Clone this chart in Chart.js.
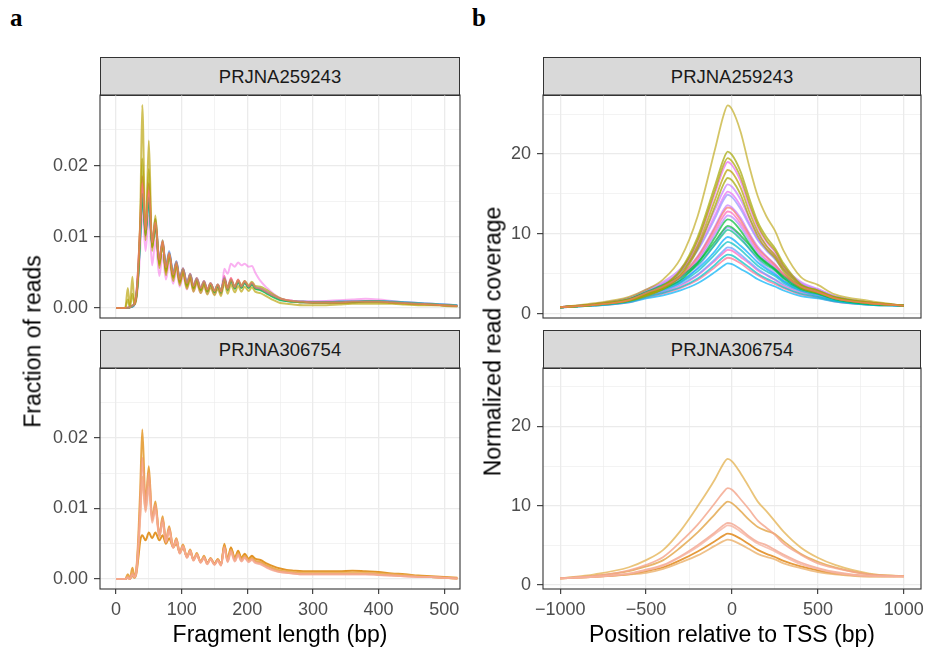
<!DOCTYPE html>
<html><head><meta charset="utf-8">
<script src="https://cdn.jsdelivr.net/npm/chart.js@4.4.0/dist/chart.umd.min.js"></script>
<style>
body{margin:0;background:#fff;width:925px;height:648px;position:relative;overflow:hidden;font-family:"Liberation Sans",Arial,sans-serif}
canvas{position:absolute}
.strip{position:absolute;background:#D9D9D9;border:1.1px solid #333;box-sizing:border-box;text-align:center;color:#1A1A1A;font-size:18.5px;line-height:37px}
.title{position:absolute;color:#000;font-size:23px;line-height:23px;white-space:nowrap;text-align:center}
.tag{position:absolute;font-family:"Liberation Serif","DejaVu Serif",serif;font-weight:bold;font-size:25px;line-height:25px;color:#000}
</style></head><body>
<div class="tag" style="left:10px;top:5px">a</div>
<div class="tag" style="left:472px;top:5px">b</div>
<div class="strip" style="left:100px;top:57px;width:360px;height:39px">PRJNA259243</div>
<div class="strip" style="left:100px;top:330px;width:360px;height:39px">PRJNA306754</div>
<div class="strip" style="left:543px;top:57px;width:378px;height:39px">PRJNA259243</div>
<div class="strip" style="left:543px;top:330px;width:378px;height:39px">PRJNA306754</div>
<canvas id="cTL" width="470" height="240" style="left:0;top:85px"></canvas>
<canvas id="cBL" width="470" height="290" style="left:0;top:358px"></canvas>
<canvas id="cTR" width="455" height="240" style="left:470px;top:85px"></canvas>
<canvas id="cBR" width="455" height="290" style="left:470px;top:358px"></canvas>
<div class="title" style="left:80px;top:623px;width:400px">Fragment length (bp)</div>
<div class="title" style="left:532px;top:623px;width:400px">Position relative to TSS (bp)</div>
<div class="title" style="left:-167px;top:330px;width:400px;transform:rotate(-90deg)">Fraction of reads</div>
<div class="title" style="left:293px;top:330px;width:400px;transform:rotate(-90deg)">Normalized read coverage</div>
<script>
// ---------- DATA ----------
const fragLen = [0,14,18,21,25,28,31,34,37,40, 45,50,55,60,66,71,76,81,87,92, 97,102,108,113,118,123,129,134,139,144, 150,155,160,165,170,175,181,186,191,196, 202,207,212,220,230,240,250,260,270,285, 300,320,340,360,380,400,420,440,460,480, 500,520];

// PRJNA259243 fragment length distributions
const fragA_red = [0,0,0,0.0001,0.0003,0.0006,0.002,0.006,0.0115,0.0175, 0.011,0.0165,0.0092,0.012,0.0068,0.0094,0.0057,0.0078,0.0047,0.0065, 0.004,0.0056,0.0035,0.0048,0.0031,0.0042,0.0028,0.0038,0.0026,0.0035, 0.0024,0.0033,0.0023,0.0042,0.0027,0.0041,0.0029,0.0039,0.003,0.0037, 0.003,0.0035,0.0029,0.0027,0.0022,0.0017,0.0013,0.0011,0.001,0.0009, 0.0008,0.0008,0.0008,0.0009,0.0009,0.0009,0.0008,0.0007,0.0006,0.0005, 0.0004,0.0003];
const fragA_olive1 = [0,0,0.0028,0.0002,0.0044,0.0005,0.0015,0.005,0.013,0.0285, 0.0095,0.0235,0.008,0.013,0.0056,0.0095,0.0046,0.0076,0.0038,0.006, 0.0032,0.005,0.0027,0.0042,0.0023,0.0036,0.0021,0.0032,0.0019,0.0029, 0.0018,0.0027,0.0017,0.0036,0.002,0.0033,0.0022,0.0031,0.0023,0.003, 0.0024,0.0029,0.0023,0.0021,0.0016,0.0011,0.0007,0.0006,0.0005,0.0004, 0.0004,0.0004,0.0005,0.0006,0.0006,0.0006,0.0006,0.0005,0.0004,0.0004, 0.0003,0.0002];
const fragA_olive2 = [0,0,0.0012,0.0001,0.002,0.0005,0.0016,0.0055,0.012,0.021, 0.0105,0.0195,0.0085,0.0125,0.006,0.0093,0.005,0.0076,0.0042,0.0062, 0.0035,0.0052,0.003,0.0044,0.0027,0.0039,0.0025,0.0036,0.0024,0.0034, 0.0024,0.0033,0.0024,0.004,0.0029,0.0039,0.0031,0.0039,0.0032,0.0038, 0.0032,0.0037,0.0031,0.003,0.0025,0.0019,0.0014,0.0011,0.0009,0.0008, 0.0007,0.0007,0.0007,0.0008,0.0008,0.0008,0.0007,0.0006,0.0005,0.0005, 0.0004,0.0003];
const fragA_green = [0,0,0,0.0001,0.0003,0.0006,0.0017,0.005,0.0105,0.016, 0.0102,0.0155,0.0086,0.0115,0.0063,0.009,0.0053,0.0075,0.0044,0.0063, 0.0037,0.0054,0.0032,0.0046,0.0028,0.004,0.0025,0.0036,0.0023,0.0033, 0.0022,0.0031,0.0021,0.0041,0.0025,0.0039,0.0027,0.0037,0.0028,0.0035, 0.0028,0.0033,0.0027,0.0025,0.002,0.0015,0.0011,0.001,0.0009,0.0008, 0.0008,0.0008,0.0008,0.0008,0.0009,0.0009,0.0008,0.0007,0.0006,0.0005, 0.0004,0.0003];
const fragA_teal = [0,0,0,0.0001,0.0002,0.0005,0.0016,0.0048,0.0102,0.0158, 0.0108,0.0152,0.009,0.0118,0.0066,0.0092,0.0055,0.0078,0.0046,0.0065, 0.0039,0.0055,0.0033,0.0047,0.0029,0.0041,0.0026,0.0037,0.0024,0.0034, 0.0023,0.0032,0.0022,0.004,0.0026,0.0039,0.0028,0.0037,0.0029,0.0036, 0.0029,0.0034,0.0028,0.0026,0.0021,0.0016,0.0012,0.001,0.0009,0.0009, 0.0008,0.0008,0.0009,0.0009,0.001,0.001,0.0009,0.0008,0.0007,0.0006, 0.0005,0.0004];
const fragA_blue = [0,0,0,0.0001,0.0002,0.0005,0.0018,0.005,0.0105,0.016, 0.011,0.015,0.009,0.0125,0.0068,0.0095,0.0058,0.008,0.0048,0.0066, 0.004,0.0056,0.0034,0.0048,0.003,0.0042,0.0027,0.0038,0.0025,0.0035, 0.0024,0.0033,0.0023,0.0042,0.0027,0.0038,0.0029,0.0037,0.003,0.0036, 0.003,0.0034,0.0029,0.0027,0.0022,0.0017,0.0013,0.001,0.0009,0.0008, 0.0008,0.0008,0.0008,0.0009,0.0009,0.0009,0.0008,0.0007,0.0006,0.0005, 0.0004,0.0003];
const fragA_purple = [0,0,0,0.0001,0.0003,0.0006,0.0019,0.0055,0.011,0.0168, 0.0106,0.0158,0.0089,0.0117,0.0065,0.0091,0.0055,0.0077,0.0046,0.0064, 0.0039,0.0055,0.0034,0.0047,0.003,0.0041,0.0027,0.0037,0.0025,0.0034, 0.0024,0.0032,0.0023,0.0043,0.0027,0.004,0.0029,0.0038,0.003,0.0036, 0.003,0.0034,0.0029,0.0027,0.0022,0.0017,0.0013,0.0011,0.001,0.0009, 0.0009,0.0009,0.0009,0.001,0.001,0.001,0.0009,0.0008,0.0007,0.0006, 0.0005,0.0004];
const fragA_magenta = [0,0,0,0.0001,0.0002,0.0004,0.0012,0.0038,0.0085,0.014, 0.008,0.013,0.006,0.0095,0.0045,0.0075,0.004,0.0062,0.0034,0.0052, 0.003,0.0045,0.0026,0.0039,0.0023,0.0034,0.0021,0.0031,0.002,0.0029, 0.0019,0.0028,0.0019,0.0055,0.0048,0.0062,0.0058,0.0064,0.006,0.0062, 0.0058,0.0059,0.005,0.0038,0.0028,0.002,0.0014,0.0011,0.001,0.0009, 0.0009,0.001,0.0011,0.0012,0.0013,0.0012,0.001,0.0008,0.0007,0.0006, 0.0005,0.0004];
const fragA_pink = [0,0,0.0001,0.0001,0.0004,0.0006,0.002,0.006,0.012,0.0185, 0.01,0.0175,0.0085,0.0115,0.0062,0.0092,0.0052,0.0077,0.0044,0.0064, 0.0037,0.0055,0.0032,0.0047,0.0028,0.0041,0.0026,0.0037,0.0024,0.0034, 0.0023,0.0032,0.0022,0.0045,0.0026,0.0042,0.0028,0.004,0.0029,0.0038, 0.0029,0.0035,0.0028,0.0027,0.0022,0.0017,0.0013,0.0011,0.0009,0.0008, 0.0007,0.0007,0.0007,0.0008,0.0009,0.0009,0.0008,0.0007,0.0006,0.0005, 0.0004,0.0003];

// PRJNA306754 fragment length distributions
const fragB_lightSalmon = [0,0,0.0002,0,0.0006,0.0003,0.001,0.0042,0.009,0.014, 0.0095,0.013,0.008,0.0098,0.006,0.008,0.0052,0.0068,0.0044,0.0054, 0.0036,0.0046,0.003,0.0039,0.0026,0.0034,0.0023,0.003,0.0021,0.0028, 0.002,0.0026,0.0019,0.0043,0.0024,0.0038,0.0025,0.0034,0.0025,0.003, 0.0024,0.0027,0.0023,0.0021,0.0016,0.0012,0.001,0.0009,0.0008,0.0007, 0.0007,0.0007,0.0007,0.0007,0.0007,0.0006,0.0005,0.0004,0.0003,0.0003, 0.0002,0.0001];
const fragB_salmon = [0,0,0.0003,0,0.0008,0.0003,0.0012,0.005,0.011,0.0172, 0.0105,0.015,0.0085,0.0105,0.0062,0.0085,0.0054,0.0072,0.0045,0.0056, 0.0037,0.0047,0.0031,0.004,0.0027,0.0035,0.0024,0.0031,0.0022,0.0029, 0.0021,0.0027,0.002,0.0045,0.0025,0.004,0.0026,0.0035,0.0026,0.0031, 0.0025,0.0028,0.0024,0.0022,0.0017,0.0013,0.001,0.0009,0.0008,0.0007, 0.0007,0.0007,0.0007,0.0007,0.0007,0.0006,0.0005,0.0004,0.0003,0.0003, 0.0002,0.0001];
const fragB_lightGold = [0,0,0.0004,0,0.001,0.0003,0.0012,0.0048,0.0095,0.0145, 0.0098,0.0145,0.0083,0.0105,0.006,0.0084,0.0053,0.0071,0.0045,0.0057, 0.0037,0.0048,0.0031,0.0041,0.0027,0.0036,0.0024,0.0032,0.0022,0.0029, 0.0021,0.0028,0.002,0.0047,0.0026,0.0042,0.0028,0.0037,0.0028,0.0033, 0.0027,0.003,0.0026,0.0024,0.0019,0.0015,0.0012,0.0011,0.001,0.0009, 0.0009,0.0009,0.0009,0.0009,0.0009,0.0008,0.0007,0.0006,0.0004,0.0003, 0.0002,0.0001];
const fragB_darkOrange = [0,0,0.0002,0,0.0005,0.0002,0.0008,0.003,0.0055,0.0062, 0.0055,0.0066,0.0058,0.0066,0.0055,0.0062,0.005,0.0058,0.0045,0.005, 0.0038,0.0044,0.0032,0.0038,0.0028,0.0034,0.0025,0.0031,0.0023,0.0029, 0.0022,0.0028,0.0021,0.0048,0.0028,0.0044,0.003,0.004,0.003,0.0036, 0.0029,0.0033,0.0029,0.0027,0.0022,0.0018,0.0015,0.0013,0.0012,0.0011, 0.0011,0.0011,0.0011,0.0012,0.0011,0.001,0.0008,0.0007,0.0005,0.0004, 0.0003,0.0002];
const fragB_gold = [0,0,0.0007,0.0001,0.0016,0.0004,0.0015,0.006,0.013,0.0212, 0.011,0.016,0.0085,0.011,0.0062,0.0089,0.0055,0.0075,0.0045,0.0058, 0.0037,0.0049,0.0031,0.0042,0.0027,0.0037,0.0024,0.0033,0.0022,0.003, 0.0021,0.0028,0.002,0.005,0.0026,0.0045,0.0028,0.0038,0.0028,0.0034, 0.0027,0.0031,0.0026,0.0024,0.0019,0.0015,0.0012,0.001,0.0009,0.0008, 0.0008,0.0008,0.0008,0.0008,0.0008,0.0007,0.0006,0.0005,0.0004,0.0003, 0.0002,0.0001];

// TSS enrichment profiles
const tssPos = [-1000,-800,-600,-500,-400,-300,-200,-100,-50,-25,0,50,100,150,200,250,300,400,500,600,800,1000];
const tssA_red     = [0.8,1.1,1.7,2.6,3.4,4.7,7.1,10.7,12.7,13.3,13.1,11.7,9.9,8.2,7.1,6.1,4.9,3.4,2.7,1.9,1.3,1.0];
const tssA_olive1  = [0.8,1.3,2.1,3.0,4.3,6.9,12.2,20.5,24.8,26.1,25.6,22.8,18.5,14.7,12.2,10.4,7.9,4.6,3.6,2.4,1.6,1.0];
const tssA_olive2  = [0.8,1.2,1.8,2.5,3.5,5.5,9.6,16.0,19.3,20.3,19.9,17.8,14.5,11.5,9.6,8.2,6.3,3.7,2.9,2.1,1.4,1.0];
const tssA_olive3  = [0.8,1.1,1.7,2.4,3.4,5.3,9.2,15.4,18.6,19.5,19.1,17.1,13.9,11.1,9.2,7.9,6.0,3.6,2.9,2.0,1.4,1.0];
const tssA_olive4  = [0.8,1.1,1.7,2.3,3.2,4.9,8.5,14.2,17.1,18.0,17.7,15.8,12.8,10.3,8.5,7.3,5.6,3.4,2.7,1.9,1.3,1.0];
const tssA_olive5  = [0.8,1.1,1.6,2.2,3.1,4.7,8.1,13.4,16.2,17.0,16.7,14.9,12.1,9.7,8.1,7.0,5.3,3.2,2.6,1.9,1.3,1.0];
const tssA_green   = [0.8,1.1,1.6,2.3,3.1,4.2,6.3,9.5,11.3,11.8,11.6,10.4,8.8,7.3,6.3,5.5,4.4,3.1,2.5,1.8,1.2,1.0];
const tssA_green3  = [0.8,1.1,1.8,2.7,3.6,4.7,6.4,9.0,10.5,11.0,10.8,9.8,8.6,7.3,6.4,5.6,4.7,3.5,2.7,2.0,1.3,1.0];
const tssA_green2  = [0.8,1.1,1.8,2.6,3.4,4.5,6.1,8.6,10.0,10.5,10.3,9.3,8.2,7.0,6.1,5.4,4.5,3.3,2.6,2.0,1.3,1.0];
const tssA_teal    = [0.8,1.1,1.6,2.4,3.0,3.9,5.3,7.4,8.6,9.0,8.8,8.0,7.0,6.0,5.3,4.7,3.9,2.9,2.4,1.8,1.2,1.0];
const tssA_cyan2   = [0.8,1.0,1.5,2.1,2.6,3.3,4.4,6.1,7.1,7.4,7.3,6.6,5.8,5.0,4.4,3.9,3.3,2.5,2.1,1.6,1.1,1.0];
const tssA_cyan    = [0.8,1.0,1.4,1.9,2.3,2.9,3.8,5.2,6.0,6.3,6.2,5.6,5.0,4.3,3.8,3.4,2.9,2.2,1.9,1.5,1.1,1.0];
const tssA_blue2   = [0.8,1.1,1.7,2.5,3.2,4.1,5.6,7.8,9.2,9.6,9.4,8.5,7.5,6.4,5.6,4.9,4.1,3.1,2.5,1.9,1.2,1.0];
const tssA_blue    = [0.8,1.1,1.6,2.2,2.8,3.7,4.9,6.8,7.9,8.3,8.2,7.4,6.5,5.6,4.9,4.3,3.7,2.8,2.2,1.7,1.2,1.0];
const tssA_violet2 = [0.8,1.1,1.6,2.2,2.9,3.9,5.8,8.7,10.3,10.8,10.6,9.6,8.1,6.8,5.8,5.1,4.1,2.9,2.3,1.7,1.2,1.0];
const tssA_violet  = [0.8,1.2,1.9,2.8,3.7,5.2,7.9,11.9,14.2,14.9,14.6,13.1,11.1,9.2,7.9,6.8,5.5,3.7,2.9,2.1,1.4,1.0];
const tssA_purple3 = [0.8,1.1,1.7,2.4,3.2,4.4,6.6,9.9,11.7,12.3,12.1,10.9,9.2,7.6,6.6,5.7,4.6,3.2,2.5,1.8,1.3,1.0];
const tssA_purple2 = [0.8,1.2,1.8,2.6,3.4,4.8,7.2,10.9,13.0,13.6,13.3,12.0,10.1,8.4,7.2,6.2,5.0,3.4,2.7,1.9,1.3,1.0];
const tssA_purple  = [0.8,1.2,2.0,3.0,4.0,5.6,8.5,13.0,15.4,16.2,15.9,14.3,12.0,10.0,8.5,7.3,5.9,4.0,3.1,2.2,1.4,1.0];
const tssA_magenta2= [0.8,1.2,1.9,2.8,3.8,5.3,8.1,12.3,14.6,15.3,15.0,13.5,11.4,9.4,8.1,7.0,5.6,3.8,3.0,2.1,1.4,1.0];
const tssA_magenta = [0.8,1.1,1.7,2.4,3.4,5.2,9.0,15.0,18.1,19.0,18.6,16.6,13.5,10.8,9.0,7.7,5.9,3.5,2.8,2.0,1.3,1.0];
const tssA_pink    = [0.8,1.1,1.7,2.5,3.3,4.5,6.8,10.3,12.2,12.8,12.6,11.3,9.6,7.9,6.8,5.9,4.8,3.3,2.6,1.9,1.3,1.0];
const tssA_pink2   = [0.8,1.1,1.5,2.2,2.7,3.5,4.8,6.6,7.6,8.0,7.9,7.1,6.3,5.4,4.8,4.2,3.5,2.7,2.2,1.7,1.2,1.0];
const tssA_rose    = [0.8,1.0,1.4,2.0,2.5,3.2,4.2,5.8,6.7,7.0,6.9,6.3,5.5,4.8,4.2,3.7,3.2,2.4,2.0,1.5,1.1,1.0];

const tssB_lightSalmon = [0.8,1.0,1.4,1.8,2.4,3.5,4.8,6.4,7.2,7.5,7.4,6.7,5.9,5.2,4.7,4.2,3.6,2.6,2.0,1.5,1.1,1.05];
const tssB_salmon1 = [0.8,1.0,1.4,1.9,2.5,3.6,5.0,6.6,7.5,7.8,7.7,7.0,6.1,5.4,5.0,4.4,3.8,2.8,2.1,1.6,1.1,1.05];
const tssB_salmon2 = [0.8,1.1,1.8,2.5,3.5,5.4,7.6,10.3,11.7,12.2,12.0,10.8,9.5,8.1,7.2,6.3,5.2,3.8,2.7,2.1,1.3,1.05];
const tssB_lightOrange = [0.8,1.0,1.3,1.5,2.0,2.8,3.7,4.9,5.5,5.7,5.6,5.1,4.5,3.9,3.5,3.2,2.7,2.1,1.6,1.3,1.0,1.05];
const tssB_gold = [0.8,1.1,1.7,2.3,3.1,4.7,6.6,8.9,10.1,10.5,10.3,9.3,8.2,7.3,6.8,6.4,5.5,3.9,2.9,2.2,1.3,1.1];
const tssB_lightGold = [0.8,1.3,2.2,3.1,4.4,6.8,9.9,13.3,15.3,15.9,15.6,14.1,12.3,10.5,9.3,8.0,6.7,4.7,3.4,2.5,1.4,1.05];
const tssB_darkOrange = [0.8,1.0,1.3,1.7,2.2,3.1,4.2,5.5,6.2,6.45,6.35,5.8,5.1,4.4,3.9,3.5,3.0,2.3,1.8,1.4,1.1,1.05];

// axis ticks
const fragMajor = [0,100,200,300,400,500];
const fragMinor = [50,150,250,350,450];
const fragTickLabels = ['0','100','200','300','400','500'];
const fracMajor = [0,0.01,0.02];
const fracMinor = [0.005,0.015,0.025];
const fracTickLabels = ['0.00','0.01','0.02'];
const posMajor = [-1000,-500,0,500,1000];
const posMinor = [-750,-250,250,750];
const posTickLabels = ['\u22121000','\u2212500','0','500','1000'];
const covMajor = [0,10,20];
const covMinor = [5,15,25];
const covTickLabels = ['0','10','20'];

// ---------- RENDERING ----------
const FONT = '"Liberation Sans", Arial, sans-serif';
Chart.defaults.font.family = FONT;
function rgba(hex, a){const n=parseInt(hex.slice(1),16);return `rgba(${n>>16&255},${n>>8&255},${n&255},${a})`;}
function line(xs, ys, hex, a, w){
  return {data: xs.map((x,i)=>({x:x,y:ys[i]})), borderColor: rgba(hex,a), borderWidth: w,
    pointRadius:0, fill:false, cubicInterpolationMode:'monotone'};
}
const borderPlugin = {id:'panelBorder', afterDraw(chart){
  const {ctx, chartArea:a} = chart; ctx.save(); ctx.strokeStyle='#333333'; ctx.lineWidth=1.1;
  ctx.strokeRect(a.left, a.top, a.right-a.left, a.bottom-a.top); ctx.restore();}};

function axis(min, max, major, minor, labels, showLabels, isX, size, pad){
  const all = major.concat(minor).sort((a,b)=>a-b);
  return {type:'linear', min:min, max:max,
    afterBuildTicks: s => { s.ticks = all.map(v=>({value:v})); },
    afterFit: s => { if(isX) s.height = size; else s.width = size;
      s.paddingLeft = 0; s.paddingRight = 0; s.paddingTop = 0; s.paddingBottom = 0; },
    border:{display:false},
    grid:{color:'#EBEBEB', lineWidth: c => (c.tick && major.includes(c.tick.value)) ? 1.3 : 0.6,
      drawTicks: showLabels, tickLength: isX ? 5 : 6, tickWidth: 1.1,
      tickColor: c => (c.tick && major.includes(c.tick.value)) ? '#333333' : 'rgba(0,0,0,0)'},
    ticks:{display: showLabels, autoSkip:false, maxRotation:0, minRotation:0, padding: pad,
      color:'#4D4D4D', font:{size:18, family:FONT},
      callback: v => { const i = major.indexOf(v); return i>=0 ? labels[i] : ''; }}
  };
}
function make(id, datasets, xa, ya, padding){
  new Chart(document.getElementById(id), {type:'line', data:{datasets:datasets},
    options:{responsive:false, animation:false, devicePixelRatio:1, layout:{padding:padding},
      plugins:{legend:{display:false}, tooltip:{enabled:false}},
      scales:{x:xa, y:ya}}, plugins:[borderPlugin]});
}
const FW = 2.0, FA = 0.7;
make('cTL', [
  line(fragLen, fragA_red, '#F8766D', FA, FW),
  line(fragLen, fragA_olive1, '#B79F00', 0.65, FW),
  line(fragLen, fragA_olive2, '#A3A500', 0.65, FW),
  line(fragLen, fragA_green, '#00BA38', FA, FW),
  line(fragLen, fragA_teal, '#00BFC4', FA, FW),
  line(fragLen, fragA_blue, '#619CFF', FA, FW),
  line(fragLen, fragA_purple, '#C77CFF', FA, FW),
  line(fragLen, fragA_magenta, '#F564E3', 0.5, FW),
  line(fragLen, fragA_pink, '#FF6699', 0.85, FW)
], axis(-24.4, 524, fragMajor, fragMinor, fragTickLabels, false, true, 0, 5),
   axis(-0.0014, 0.0299, fracMajor, fracMinor, fracTickLabels, true, false, 100, 6),
   {left:0, top:10, right:10, bottom:7});
make('cBL', [
  line(fragLen, fragB_lightSalmon, '#F5AA92', 0.8, FW),
  line(fragLen, fragB_salmon, '#F39C80', 0.8, FW),
  line(fragLen, fragB_lightGold, '#EBB05A', 0.8, FW),
  line(fragLen, fragB_darkOrange, '#DF8A12', 0.9, FW),
  line(fragLen, fragB_gold, '#E49A2E', 0.88, FW)
], axis(-24.4, 524, fragMajor, fragMinor, fragTickLabels, true, true, 40, 5),
   axis(-0.0014, 0.0299, fracMajor, fracMinor, fracTickLabels, true, false, 100, 6),
   {left:0, top:10, right:10, bottom:19});
const TW = 1.8, TA = 0.7;
make('cTR', [
  line(tssPos, tssA_red, '#F8766D', TA, TW),
  line(tssPos, tssA_olive1, '#B79F00', 0.6, TW),
  line(tssPos, tssA_olive2, '#A3A500', TA, TW),
  line(tssPos, tssA_olive3, '#ADA200', TA, TW),
  line(tssPos, tssA_olive4, '#B79F00', TA, TW),
  line(tssPos, tssA_olive5, '#A3A500', TA, TW),
  line(tssPos, tssA_green, '#00BA38', TA, TW),
  line(tssPos, tssA_green3, '#00BA38', TA, TW),
  line(tssPos, tssA_green2, '#00C08B', TA, TW),
  line(tssPos, tssA_teal, '#00BFC4', TA, TW),
  line(tssPos, tssA_cyan2, '#00BFC4', TA, TW),
  line(tssPos, tssA_cyan, '#00B0F6', TA, TW),
  line(tssPos, tssA_blue2, '#00A9FF', TA, TW),
  line(tssPos, tssA_blue, '#619CFF', TA, TW),
  line(tssPos, tssA_violet2, '#9590FF', TA, TW),
  line(tssPos, tssA_violet, '#9590FF', TA, TW),
  line(tssPos, tssA_purple3, '#B983FF', TA, TW),
  line(tssPos, tssA_purple2, '#C77CFF', TA, TW),
  line(tssPos, tssA_purple, '#C77CFF', TA, TW),
  line(tssPos, tssA_magenta2, '#E76BF3', TA, TW),
  line(tssPos, tssA_magenta, '#E76BF3', TA, TW),
  line(tssPos, tssA_pink, '#FF62BC', TA, TW),
  line(tssPos, tssA_pink2, '#FF61C3', TA, TW),
  line(tssPos, tssA_rose, '#FF6C91', TA, TW)
], axis(-1100, 1100, posMajor, posMinor, posTickLabels, false, true, 0, 5),
   axis(-0.55, 27.4, covMajor, covMinor, covTickLabels, true, false, 73, 6),
   {left:0, top:10, right:4, bottom:7});
make('cBR', [
  line(tssPos, tssB_lightSalmon, '#F6B3A0', 0.8, TW),
  line(tssPos, tssB_salmon1, '#F3A58E', 0.8, TW),
  line(tssPos, tssB_salmon2, '#F4A48A', 0.8, TW),
  line(tssPos, tssB_lightOrange, '#EBB06A', 0.8, TW),
  line(tssPos, tssB_gold, '#E2A445', 0.8, TW),
  line(tssPos, tssB_lightGold, '#E5B559', 0.8, TW),
  line(tssPos, tssB_darkOrange, '#E0881A', 0.85, TW)
], axis(-1100, 1100, posMajor, posMinor, posTickLabels, true, true, 40, 5),
   axis(-0.55, 27.4, covMajor, covMinor, covTickLabels, true, false, 73, 6),
   {left:0, top:10, right:4, bottom:19});
</script>
</body></html>
